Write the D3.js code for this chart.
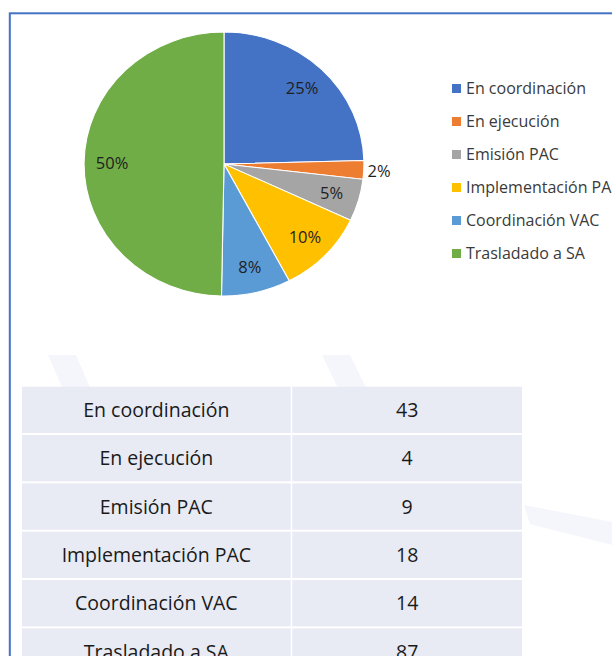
<!DOCTYPE html>
<html>
<head>
<meta charset="utf-8">
<script src="https://cdn.jsdelivr.net/npm/d3@7"></script>
<style>
  html, body { margin: 0; padding: 0; background: #fff; }
  svg { display: block; }
  text { font-family: "Open Sans", "Noto Sans", sans-serif; }
</style>
</head>
<body>
<svg id="chart" width="612" height="656"></svg>
<script>
// ---- data ----
const categories = ["En coordinación", "En ejecución", "Emisión PAC", "Implementación PAC", "Coordinación VAC", "Trasladado a SA"];
const values = [43, 4, 9, 18, 14, 87];
const colors = ["#4472C4", "#ED7D31", "#A5A5A5", "#FFC000", "#5B9BD5", "#70AD47"];

const svg = d3.select("#chart");
const W = 612, H = 656;

// faint background watermark strokes
const wm = svg.append("g").attr("fill", "#F5F6FB");
wm.append("path").attr("d", "M48,355 L76,355 L92,392 L64,392 Z");
wm.append("path").attr("d", "M322,355 L350,355 L368,392 L340,392 Z");
wm.append("path").attr("d", "M524,505 L612,522 L612,545 L530,524 Z");

// frame
svg.append("rect")
  .attr("x", 9.8).attr("y", 13.3)
  .attr("width", W + 20).attr("height", H + 20)
  .attr("fill", "none").attr("stroke", "#4472C4").attr("stroke-width", 2);

// ---- pie ----
const cx = 224, cy = 164, R = 132, sx = 1.06;
const total = d3.sum(values);
const pie = d3.pie().sort(null).value(d => d.v).startAngle(0).endAngle(2 * Math.PI);
const arcs = pie(values.map((v, i) => ({ v, c: categories[i], col: colors[i] })));
const arc = d3.arc().innerRadius(0).outerRadius(R);

const pg = svg.append("g").attr("transform", `translate(${cx},${cy}) scale(${sx},1)`);
pg.selectAll("path").data(arcs).join("path")
  .attr("d", arc)
  .attr("fill", d => d.data.col)
  .attr("stroke", "#fff").attr("stroke-width", 1);

const fmt = d3.format(".0%");
svg.append("g").selectAll("text").data(arcs).join("text")
  .attr("transform", d => {
    const share = d.data.v / total;
    const rr = share < 0.03 ? R * 1.11 : R * 0.8;
    const [x, y] = d3.arc().innerRadius(rr).outerRadius(rr).centroid(d);
    return `translate(${cx + x * sx},${cy + y})`;
  })
  .attr("text-anchor", "middle").attr("dy", "0.36em")
  .attr("font-size", 16.5).attr("fill", "#1f1f1f")
  .text(d => fmt(d.data.v / total));

// ---- legend ----
const ly = d3.scaleBand().domain(categories).range([72, 72 + 33 * 6]);
const lg = svg.append("g").selectAll("g").data(categories).join("g")
  .attr("transform", d => `translate(452,${ly(d) + ly.bandwidth() / 2})`);
lg.append("rect").attr("x", 0).attr("y", -4.5).attr("width", 9).attr("height", 9)
  .attr("fill", (d, i) => colors[i]);
lg.append("text").attr("x", 14).attr("dy", "0.36em")
  .attr("font-size", 16).attr("fill", "#3a3a3a").text(d => d);

// ---- table ----
const rowTop = 386.7, rowPitch = 48;
const ry = d3.scaleBand().domain(categories).range([rowTop, rowTop + rowPitch * 6]).paddingInner(2 / rowPitch).paddingOuter(0);
const cols = [{ x0: 22, x1: 290.7 }, { x0: 292.3, x1: 522 }];
const rows = svg.append("g").selectAll("g").data(categories).join("g");
rows.each(function (d, i) {
  const g = d3.select(this);
  cols.forEach((c, j) => {
    g.append("rect").attr("x", c.x0).attr("y", ry(d))
      .attr("width", c.x1 - c.x0).attr("height", ry.bandwidth())
      .attr("fill", "#E8EAF4");
    g.append("text").attr("x", (c.x0 + c.x1) / 2).attr("y", ry(d) + ry.bandwidth() / 2)
      .attr("text-anchor", "middle").attr("dy", "0.36em")
      .attr("font-size", 19.5).attr("fill", "#1a1a1a")
      .text(j === 0 ? d : values[i]);
  });
});
</script>
</body>
</html>
